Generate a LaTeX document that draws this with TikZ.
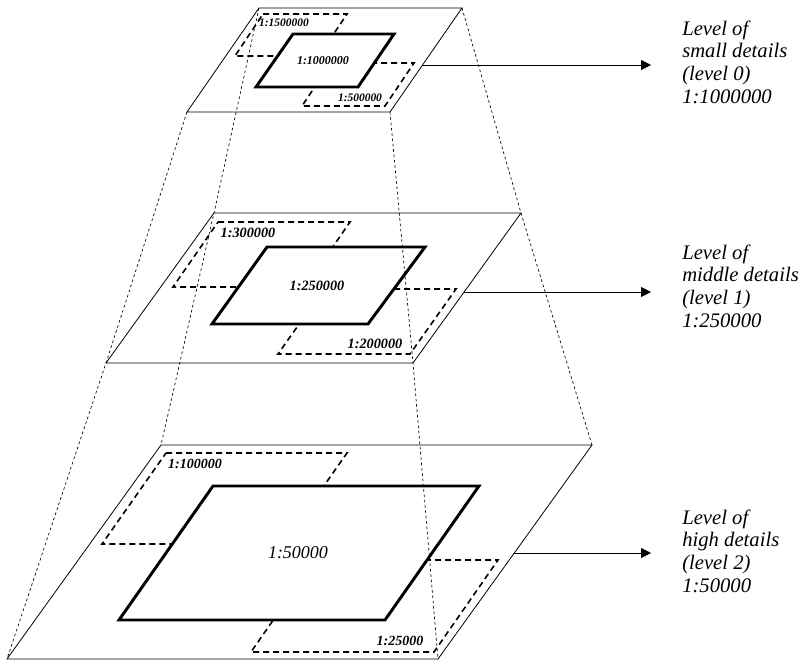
\documentclass[tikz,border=0pt]{standalone}
\usepackage{fontspec}
\setmainfont{Liberation Serif}
\usetikzlibrary{arrows.meta}

\begin{document}
\begin{tikzpicture}[
        x=0.75pt, y=-0.75pt,
        plane/.style={line width=0.6pt},
        coarse/.style={line width=1.2pt, dash pattern=on 4.5pt off 3pt},
        mapbox/.style={line width=2.2pt, fill=white},
        edge/.style={line width=0.5pt, dash pattern=on 2pt off 2pt},
        scl/.style={font=\bfseries\itshape\fontsize{#1}{#1}\selectfont, inner sep=0pt},
        plainscl/.style={font=\itshape\fontsize{#1}{#1}\selectfont, inner sep=0pt},
        lvl/.style={font=\itshape\fontsize{15.5}{17}\selectfont, align=left, inner sep=0pt, anchor=west},
        pointer/.style={line width=0.6pt, -{Triangle[length=7.5pt, width=7.5pt]}},
    ]
    \useasboundingbox (0,0) rectangle (801,663);

    % corners of the three planes
    \coordinate (ta) at (259,8);   \coordinate (tb) at (462,8);
    \coordinate (tc) at (390,112); \coordinate (td) at (187,112);
    \coordinate (ma) at (214,213); \coordinate (mb) at (521,213);
    \coordinate (mc) at (413,363); \coordinate (md) at (106,363);
    \coordinate (ba) at (161,445); \coordinate (bb) at (592,445);
    \coordinate (bc) at (438,659); \coordinate (bd) at (7,659);

    \foreach \p in {t,m,b}
        \draw[plane] (\p a) -- (\p b) -- (\p c) -- (\p d) -- cycle;

    % level 0
    \draw[coarse] (263,14) -- (347,14) -- (319,56) -- (235,56) -- cycle;
    \draw[coarse] (331,63) -- (414,63) -- (385,106) -- (302,106) -- cycle;
    \draw[mapbox] (293,34) -- (394,34) -- (358,87) -- (256,87) -- cycle;
    \node[scl=8.6] (s0a) at (284,23) {1:1500000};
    \node[scl=9] (s0b) at (323,61) {1:1000000};
    \node[scl=8.6] (s0c) at (360,98) {1:500000};

    % level 1
    \draw[coarse] (218,222) -- (350,222) -- (305,287) -- (173,287) -- cycle;
    \draw[coarse] (324,289) -- (456,289) -- (410,354) -- (278,354) -- cycle;
    \draw[mapbox] (267,247) -- (425,247) -- (368,324) -- (212,324) -- cycle;
    \node[scl=10.7] (s1a) at (248,233) {1:300000};
    \node[scl=10.7] (s1b) at (317,286) {1:250000};
    \node[scl=10.7] (s1c) at (375,344) {1:200000};

    % level 2
    \draw[coarse] (166,453) -- (347,453) -- (283,544) -- (102,544) -- cycle;
    \draw[coarse] (315,560) -- (498,560) -- (434,652) -- (251,652) -- cycle;
    \draw[mapbox] (213,486) -- (479,486) -- (385,620) -- (119,620) -- cycle;
    \node[scl=10.5] (s2a) at (195,464) {1:100000};
    \node[plainscl=13.5] (s2b) at (298,553) {1:50000};
    \node[scl=10.5] (s2c) at (400,641) {1:25000};

    % pyramid edges
    \foreach \c in {a,b,c,d}
        \draw[edge] (t\c) -- (m\c) -- (b\c);

    % level texts
    \node[lvl] (lvl0) at (682,62) {Level of\\small details\\(level 0)\\1:1000000};
    \node[lvl] (lvl1) at (682,286) {Level of\\middle details\\(level 1)\\1:250000};
    \node[lvl] (lvl2) at (682,551) {Level of\\high details\\(level 2)\\1:50000};

    \coordinate (r0) at (422,65);  \coordinate (e0) at (651,65);
    \coordinate (r1) at (464,292); \coordinate (e1) at (651,292);
    \coordinate (r2) at (514,553); \coordinate (e2) at (651,553);
    \foreach \i in {0,1,2}
        \draw[pointer] (r\i) -- (e\i);

\end{tikzpicture}
\end{document}
